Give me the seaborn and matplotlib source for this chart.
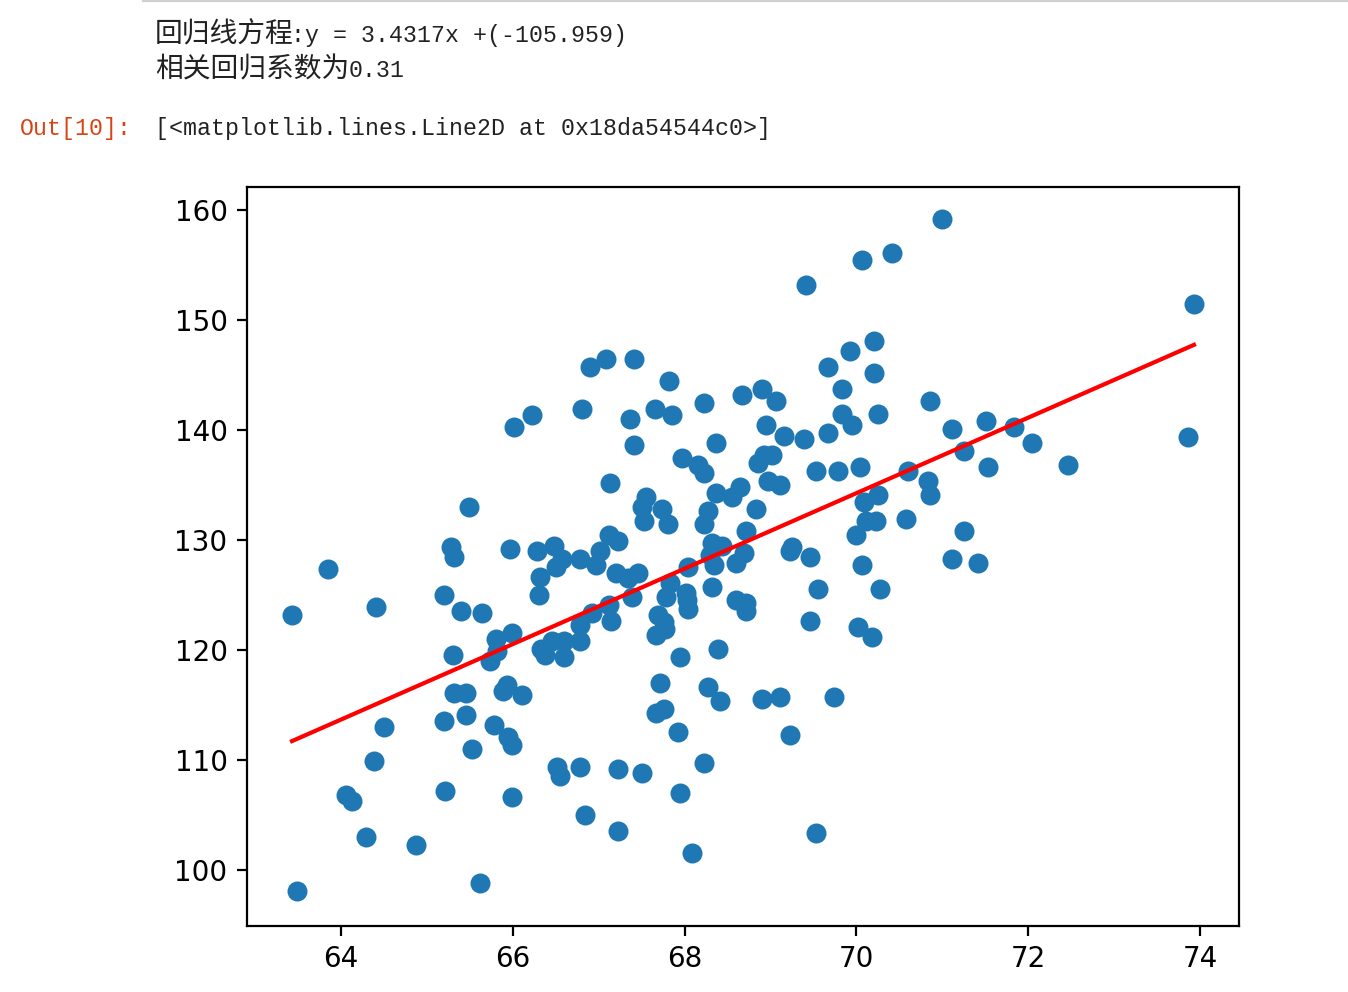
import numpy as np
import pandas as pd
import matplotlib
matplotlib.use("Agg")
import matplotlib.pyplot as plt
from matplotlib.lines import Line2D
import seaborn as sns

# ---- data ----
height_x = [
    63.43, 63.49, 63.85, 64.06, 64.13, 64.29, 64.38, 64.41, 64.50, 64.87,
    65.20, 65.20, 65.21, 65.28, 65.30, 65.32, 65.32, 65.40, 65.46, 65.46,
    65.49, 65.53, 65.62, 65.64, 65.73, 65.78, 65.80, 65.82, 65.89, 65.93,
    65.94, 65.99, 65.99, 65.97, 65.99, 66.01, 66.11, 66.22, 66.28, 66.31,
    66.32, 66.33, 66.37, 66.46, 66.48, 66.50, 66.51, 66.55, 66.57, 66.60,
    66.60, 66.78, 66.78, 66.78, 66.81, 66.78, 66.84, 66.90, 66.92, 66.97,
    67.02, 67.08, 67.12, 67.13, 67.12, 67.14, 67.20, 67.22, 67.22, 67.22,
    67.34, 67.36, 67.39, 67.41, 67.41, 67.46, 67.50, 67.50, 67.53, 67.55,
    67.66, 67.67, 67.67, 67.69, 67.71, 67.74, 67.77, 67.76, 67.76, 67.78,
    67.81, 67.82, 67.85, 67.83, 67.92, 67.95, 67.95, 67.97, 68.02, 68.03,
    68.04, 68.04, 68.09, 68.16, 68.23, 68.23, 68.23, 68.23, 68.27, 68.27,
    68.30, 68.32, 68.32, 68.34, 68.37, 68.37, 68.39, 68.41, 68.44, 68.55,
    68.60, 68.60, 68.64, 68.67, 68.69, 68.71, 68.71, 68.71, 68.83, 68.85,
    68.90, 68.90, 68.92, 68.95, 68.97, 69.02, 69.06, 69.11, 69.11, 69.16,
    69.23, 69.23, 69.25, 69.39, 69.41, 69.46, 69.46, 69.53, 69.55, 69.53,
    69.67, 69.67, 69.74, 69.79, 69.83, 69.83, 69.93, 69.95, 70.00, 70.02,
    70.04, 70.07, 70.07, 70.09, 70.11, 70.18, 70.20, 70.20, 70.23, 70.25,
    70.25, 70.27, 70.41, 70.58, 70.60, 70.83, 70.86, 70.86, 71.00, 71.11,
    71.11, 71.25, 71.25, 71.42, 71.51, 71.53, 71.83, 72.04, 72.46, 73.86,
    73.93,
]
weight_y = [
    123.2, 98.1, 127.4, 106.8, 106.3, 103.0, 109.9, 123.9, 113.0, 102.3,
    125.0, 113.5, 107.2, 129.4, 119.5, 128.5, 116.1, 123.5, 116.1, 114.1,
    133.0, 111.0, 98.8, 123.4, 119.0, 113.2, 121.0, 119.9, 116.3, 116.8,
    112.1, 111.4, 106.6, 129.2, 121.5, 140.3, 115.9, 141.4, 129.0, 125.0,
    126.6, 120.1, 119.5, 120.8, 129.5, 127.5, 109.4, 108.5, 128.3, 120.8,
    119.4, 109.4, 128.3, 120.8, 141.9, 122.3, 105.0, 145.7, 123.4, 127.7,
    129.0, 146.5, 130.5, 135.2, 124.1, 122.6, 127.0, 129.9, 109.2, 103.5,
    126.5, 141.0, 124.8, 146.5, 138.6, 127.0, 108.8, 133.0, 131.7, 133.9,
    141.9, 114.3, 121.4, 123.2, 117.0, 132.8, 121.9, 122.5, 114.6, 124.8,
    131.5, 144.5, 141.4, 126.1, 112.5, 107.0, 119.4, 137.5, 125.2, 124.5,
    123.7, 127.5, 101.5, 136.8, 109.7, 136.1, 142.5, 131.5, 132.6, 116.6,
    128.6, 125.7, 129.7, 127.7, 134.3, 138.8, 120.1, 115.4, 129.5, 133.9,
    127.9, 124.5, 134.8, 143.2, 128.8, 123.5, 124.3, 130.8, 132.8, 137.0,
    115.5, 143.7, 137.7, 140.5, 135.4, 137.7, 142.6, 135.0, 115.7, 139.5,
    112.3, 129.0, 129.4, 139.2, 153.2, 128.5, 122.6, 136.3, 125.5, 103.4,
    139.7, 145.7, 115.7, 136.3, 143.7, 141.5, 147.2, 140.5, 130.5, 122.1,
    136.6, 127.7, 155.5, 133.5, 131.7, 121.2, 148.1, 145.2, 131.7, 134.1,
    141.5, 125.5, 156.1, 131.9, 136.3, 135.4, 142.6, 134.1, 159.2, 128.3,
    140.1, 138.1, 130.8, 127.9, 140.8, 136.6, 140.3, 138.8, 136.8, 139.4,
    151.5,
]
slope = 3.4317
intercept = -105.959
r_text = "0.31"
x_ticks = [64, 66, 68, 70, 72, 74]
y_ticks = [100, 110, 120, 130, 140, 150, 160]

df = pd.DataFrame({"x": height_x, "y": weight_y})
line_x = np.array([min(height_x), max(height_x)])
line_df = pd.DataFrame({"x": line_x, "y": slope * line_x + intercept})

W, H = 1348, 992
fig = plt.figure(figsize=(W / 200, H / 200), dpi=200)
ax = fig.add_axes([247 / W, 1 - 926 / H, (1239 - 247) / W, (926 - 187) / H])

sns.scatterplot(data=df, x="x", y="y", ax=ax, color="#1f77b4", s=36,
                edgecolor="#1f77b4", linewidth=1.2, legend=False)
sns.lineplot(data=line_df, x="x", y="y", ax=ax, color="red", linewidth=1.5)

ax.set_xlim(62.906, 74.454)
ax.set_ylim(94.9, 162.1)
ax.set_xticks(x_ticks)
ax.set_yticks(y_ticks)
ax.set_xlabel("")
ax.set_ylabel("")
ax.tick_params(labelsize=10, colors="black")
for sp in ax.spines.values():
    sp.set_linewidth(0.8)
    sp.set_color("black")

# ---- notebook output text ----
cjk = ["Noto Sans CJK SC", "DejaVu Sans"]
mono = ["Liberation Mono", "DejaVu Sans Mono", "Noto Sans CJK SC"]
txt_col = "#212121"

def fx(px):
    return px / W

def fy(py):
    return 1 - py / H

fig.text(fx(155), fy(42), "回归线方程", family=cjk, fontsize=10, color=txt_col, va="baseline")
fig.text(fx(291), fy(42), ":y = 3.4317x +(-105.959)", family=mono, fontsize=8.4,
         color=txt_col, va="baseline")
fig.text(fx(155), fy(77), "相关回归系数为", family=cjk, fontsize=10, color=txt_col, va="baseline")
fig.text(fx(349), fy(77), r_text, family=mono, fontsize=8.4, color=txt_col, va="baseline")
fig.text(fx(20), fy(135), "Out[10]:", family=mono, fontsize=8.4, color="#D84315", va="baseline")
fig.text(fx(155), fy(135), "[<matplotlib.lines.Line2D at 0x18da54544c0>]", family=mono,
         fontsize=8.4, color=txt_col, va="baseline")

fig.add_artist(Line2D([143 / W, 1.0], [fy(1), fy(1)], transform=fig.transFigure,
                      color="#d0d0d0", linewidth=0.8))

fig.savefig("out.png", dpi=200, facecolor="white")
